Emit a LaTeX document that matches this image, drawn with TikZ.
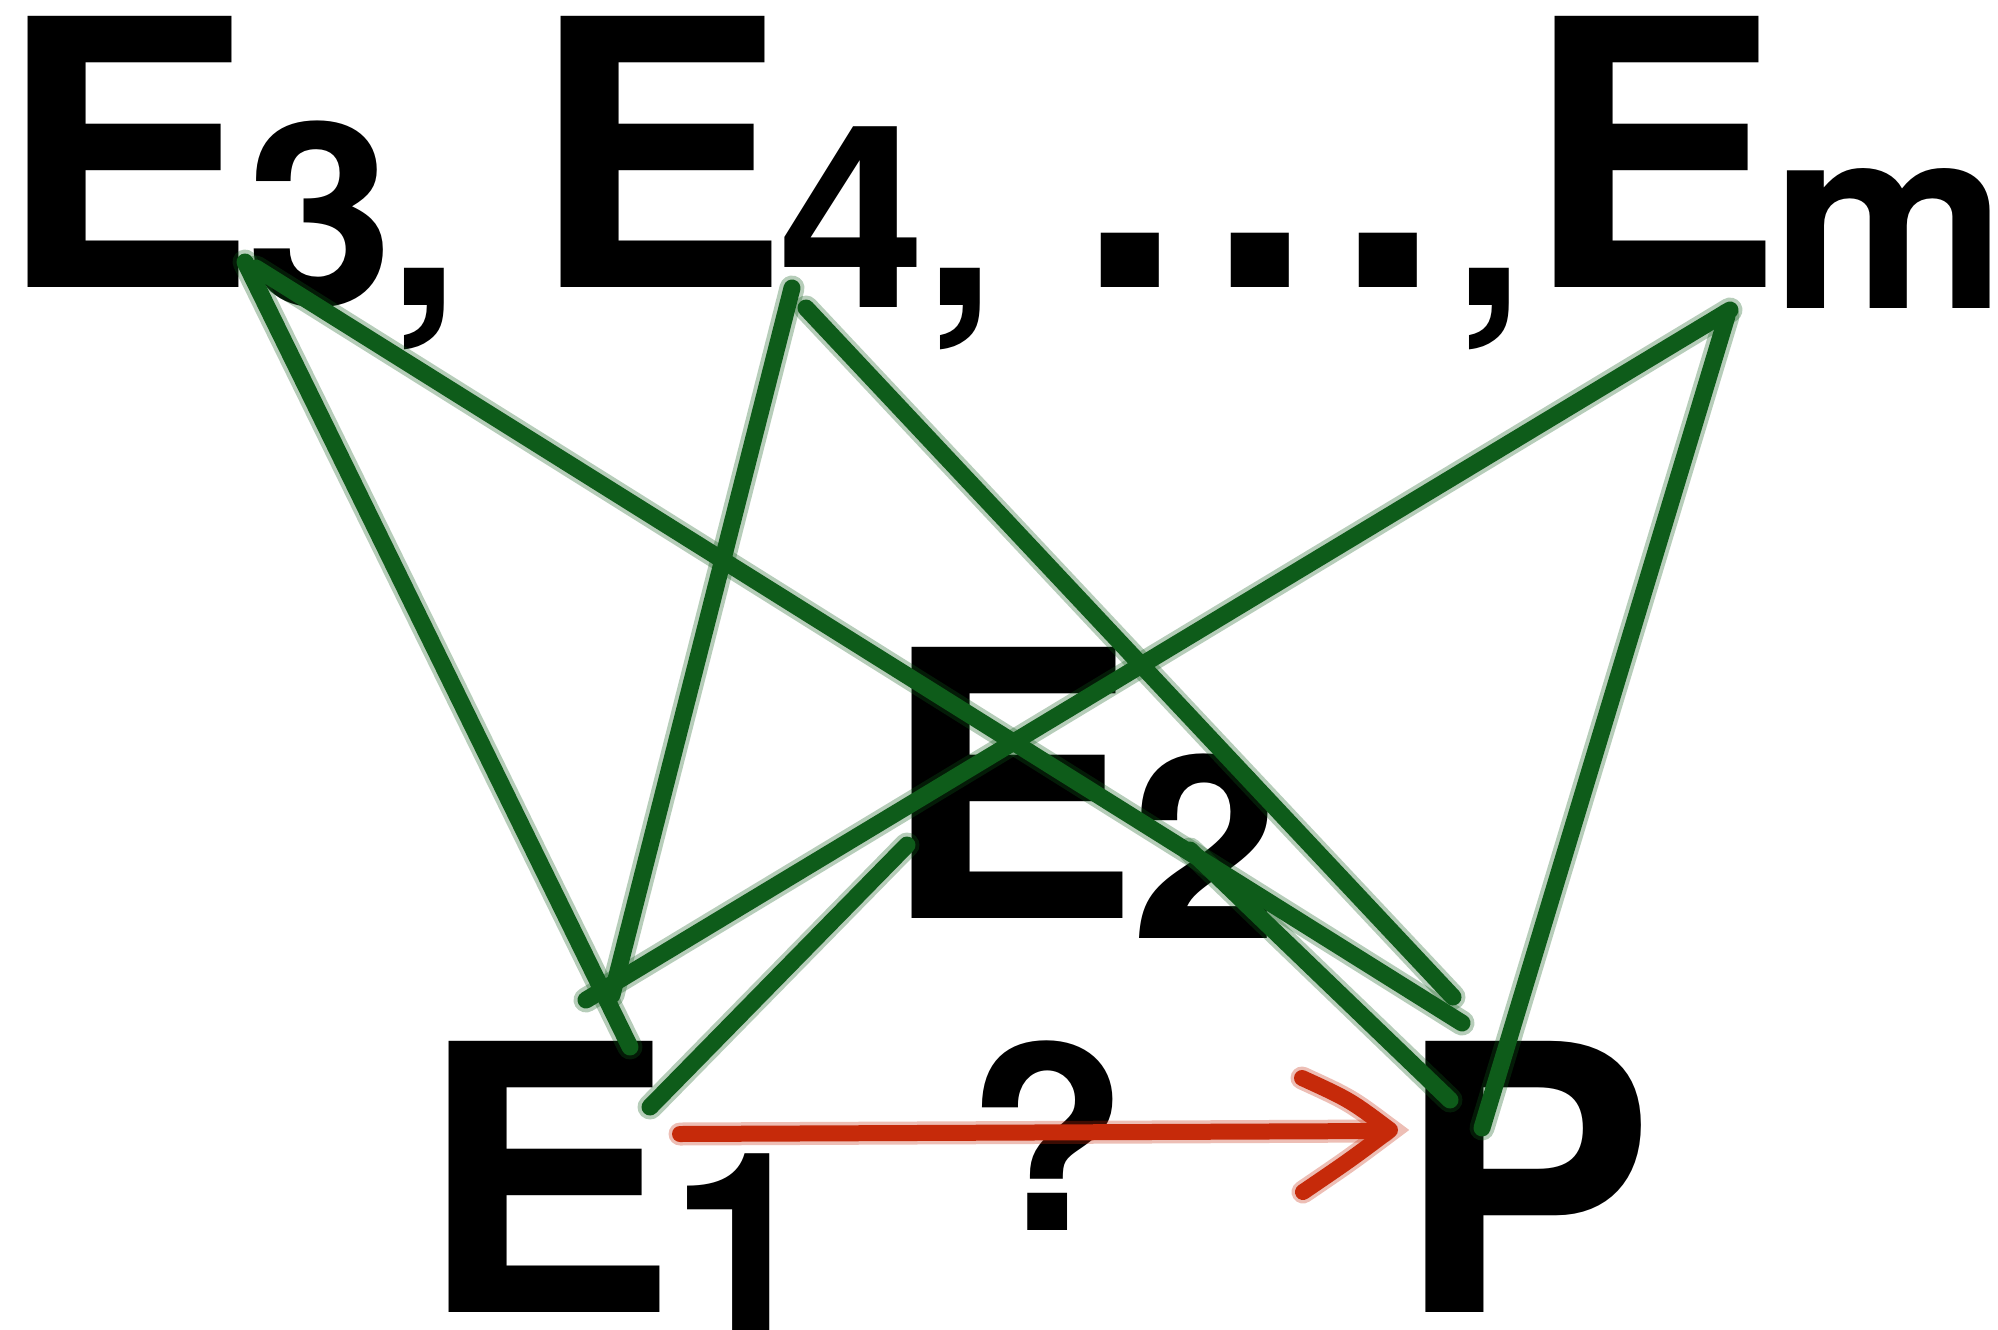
\documentclass[tikz,border=0pt]{standalone}
\usepackage{fontspec}
\setmainfont{TeX Gyre Heros}[FakeStretch=1.04]
\definecolor{pgreen}{RGB}{14,92,26}
\definecolor{pred}{RGB}{198,42,10}
\begin{document}
\begin{tikzpicture}[x=1pt,y=-1pt,
  bigtxt/.style={font=\fontsize{372}{372}\selectfont\bfseries, inner sep=0pt, anchor=base},
  subtxt/.style={font=\fontsize{255}{255}\selectfont\bfseries, inner sep=0pt, anchor=base},
  gline/.style={draw=pgreen, line width=17pt, line cap=round, line join=round,
    preaction={draw=pgreen, line width=25pt, opacity=0.3, line cap=round}},
  rline/.style={draw=pred, line width=16pt, line cap=round, line join=round,
    preaction={draw=pred, line width=23pt, opacity=0.3, line cap=round}}]
\useasboundingbox[fill=white] (0,0) rectangle (1998,1330);

% top row
\node[bigtxt] (E3) at (127,287) {E};
\node[subtxt] (s3) at (320,305) {3};
\node[subtxt] (c1) at (424,305) {,};
\node[bigtxt] (E4) at (660,287) {E};
\node[subtxt] (s4) at (852,307) {4};
\node[subtxt] (c2) at (960,305) {,};
\node[bigtxt] (d1) at (1130,287) {.};
\node[bigtxt] (d2) at (1260,287) {.};
\node[bigtxt] (d3) at (1388,287) {.};
\node[subtxt] (c3) at (1489,305) {,};
\node[bigtxt] (Em) at (1654,287) {E};
\node[subtxt] (sm) at (1889,308) {m};
% middle
\node[bigtxt] (E2) at (1011,918) {E};
\node[subtxt] (s2) at (1205,938) {2};
% bottom
\node[bigtxt] (E1) at (548,1312) {E};
\node[subtxt] (s1) at (743,1334) {1};
\node[subtxt] (q) at (1048,1230) {?};
\node[bigtxt] (P) at (1526,1312) {P};

% connector end points
\coordinate (e3a) at (245,262);
\coordinate (e3b) at (256,268);
\coordinate (e4a) at (792,288);
\coordinate (e4b) at (806,308);
\coordinate (ema) at (1730,310);
\coordinate (emb) at (1727,316);
\coordinate (e1a) at (630,1047);
\coordinate (e1b) at (612,995);
\coordinate (e1c) at (586,1000);
\coordinate (e1d) at (650,1107);
\coordinate (e2a) at (907,845);
\coordinate (e2b) at (1190,850);
\coordinate (pa) at (1462,1023);
\coordinate (pb) at (1453,997);
\coordinate (pc) at (1482,1128);
\coordinate (pd) at (1450,1100);
\coordinate (ra) at (680,1134);
\coordinate (rb) at (1384,1131);
\coordinate (rt1) at (1302,1078);
\coordinate (rt) at (1390,1130);
\coordinate (rt2) at (1303,1192);

% green connectors
\draw[gline] (e3a) -- (e1a);
\draw[gline] (e3b) -- (pa);
\draw[gline] (e4a) -- (e1b);
\draw[gline] (e4b) -- (pb);
\draw[gline] (ema) -- (e1c);
\draw[gline] (emb) -- (pc);
\draw[gline] (e1d) -- (e2a);
\draw[gline] (e2b) -- (pd);

% red arrow
\draw[rline] (ra) -- (rb);
\draw[rline] (rt1) .. controls (1350,1100) .. (rt) .. controls (1350,1160) .. (rt2);
\end{tikzpicture}
\end{document}
